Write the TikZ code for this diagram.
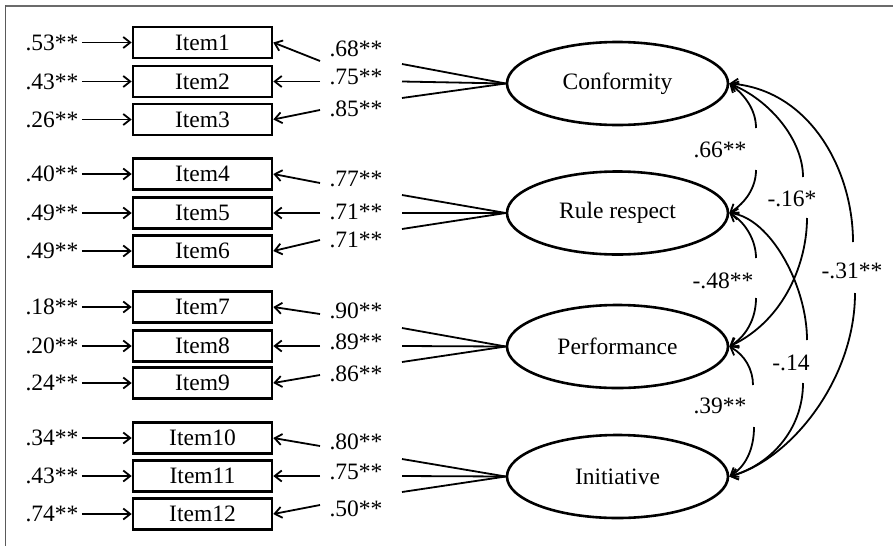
\documentclass[tikz,border=0pt]{standalone}
\usepackage{fontspec}
\setmainfont{Liberation Serif}
\usetikzlibrary{arrows.meta,shapes.geometric}
\definecolor{frameA}{HTML}{6B6B6B}
\definecolor{frameB}{HTML}{5A5A5A}
\begin{document}
\begin{tikzpicture}[x=1pt,y=-1pt,
  every node/.style={font=\fontsize{23.5}{28}\selectfont},
  itembox/.style={draw, line width=2.6pt, minimum width=139pt, minimum height=31pt, inner sep=0pt},
  latent/.style={draw, ellipse, line width=2.6pt, minimum width=221pt, minimum height=83pt, inner sep=0pt},
  lbl/.style={inner sep=0pt},
  arr/.style={line width=1.8pt, -{Straight Barb[length=7pt,width=11pt]}},
  arrback/.style={line width=1.8pt, {Straight Barb[length=7pt,width=11pt]}-},
  ln/.style={line width=1.8pt}]
\useasboundingbox (0,0) rectangle (893,546);
% frame
\draw[frameA, line width=2pt] (5,6) -- (893,6);
\draw[frameB, line width=1.5pt] (5.5,5) -- (5.5,546);
% latent variables
\node[latent] (conf) at (617.5,83.5) {Conformity};
\node[latent] (rule) at (617.5,213) {Rule respect};
\node[latent] (perf) at (617.5,346.5) {Performance};
\node[latent] (init) at (617.5,476.5) {Initiative};
% items with error variances
\foreach \n/\y/\e in {1/42.5/.53,2/81.5/.43,3/119.5/.26,4/174/.40,5/213/.49,6/251/.49,7/307/.18,8/346/.20,9/383/.24,10/438/.34,11/476/.43,12/514/.74}{
  \node[itembox] (i\n) at (202.5,\y) {Item\n};
  \node (e\n) at (52,\y) {\e**};
  \draw[arr] (e\n.east) -- (i\n.west);
}
% loadings
\foreach \n/\ly/\lab/\cy/\by/\lat in {1/49/.68/61/64/conf,2/77/.75/81.5/81.5/conf,3/109/.85/110/98/conf,
  4/179/.77/183/195/rule,5/212/.71/213/213/rule,6/240/.71/240/229/rule,
  7/311/.90/314/328/perf,8/342/.89/346/346/perf,9/374/.86/375/362/perf,
  10/442/.80/446/459/init,11/472/.75/476/476/init,12/509/.50/505/492/init}{
  \node[lbl] (l\n) at (356,\ly) {\lab**};
  \coordinate (a\n) at (320,\cy);
  \coordinate (b\n) at (402,\by);
  \draw[arr] (a\n) -- (i\n.east);
  \draw[ln] (\lat.west) -- (b\n);
}
% covariance labels
\node[lbl] (c66) at (720,150) {.66**};
\node[lbl] (c16) at (792,199) {-.16*};
\node[lbl] (c14) at (791,363) {-.14};
\node[lbl] (c48) at (723,281) {-.48**};
\node[lbl] (c39) at (720,406) {.39**};
\node[lbl] (c31) at (852,271) {-.31**};
% gap coordinates
\coordinate (g66a) at (756,128); \coordinate (g66b) at (756,170);
\coordinate (g16a) at (803,177); \coordinate (g16b) at (807,218);
\coordinate (g14a) at (807,340); \coordinate (g14b) at (803,383);
\coordinate (g48a) at (756,258); \coordinate (g48b) at (756,298);
\coordinate (g39a) at (753,385); \coordinate (g39b) at (754,427);
\coordinate (g31a) at (853,242); \coordinate (g31b) at (855,293);
% covariance curves
\draw[arrback] (conf.east) .. controls (745,95) and (756,110) .. (g66a);
\draw[arr] (g66b) .. controls (756,188) and (745,203) .. (rule.east);
\draw[arrback] (conf.east) .. controls (770,100) and (803,140) .. (g16a);
\draw[arr] (g16b) .. controls (807,262) and (785,320) .. (perf.east);
\draw[arrback] (rule.east) .. controls (770,218) and (807,285) .. (g14a);
\draw[arr] (g14b) .. controls (803,430) and (770,465) .. (init.east);
\draw[arrback] (rule.east) .. controls (745,222) and (756,240) .. (g48a);
\draw[arr] (g48b) .. controls (756,320) and (745,337) .. (perf.east);
\draw[arrback] (perf.east) .. controls (745,355) and (753,370) .. (g39a);
\draw[arr] (g39b) .. controls (754,450) and (745,467) .. (init.east);
\draw[arrback] (conf.east) .. controls (810,90) and (853,170) .. (g31a);
\draw[arr] (g31b) .. controls (855,380) and (790,460) .. (init.east);
\end{tikzpicture}
\end{document}
